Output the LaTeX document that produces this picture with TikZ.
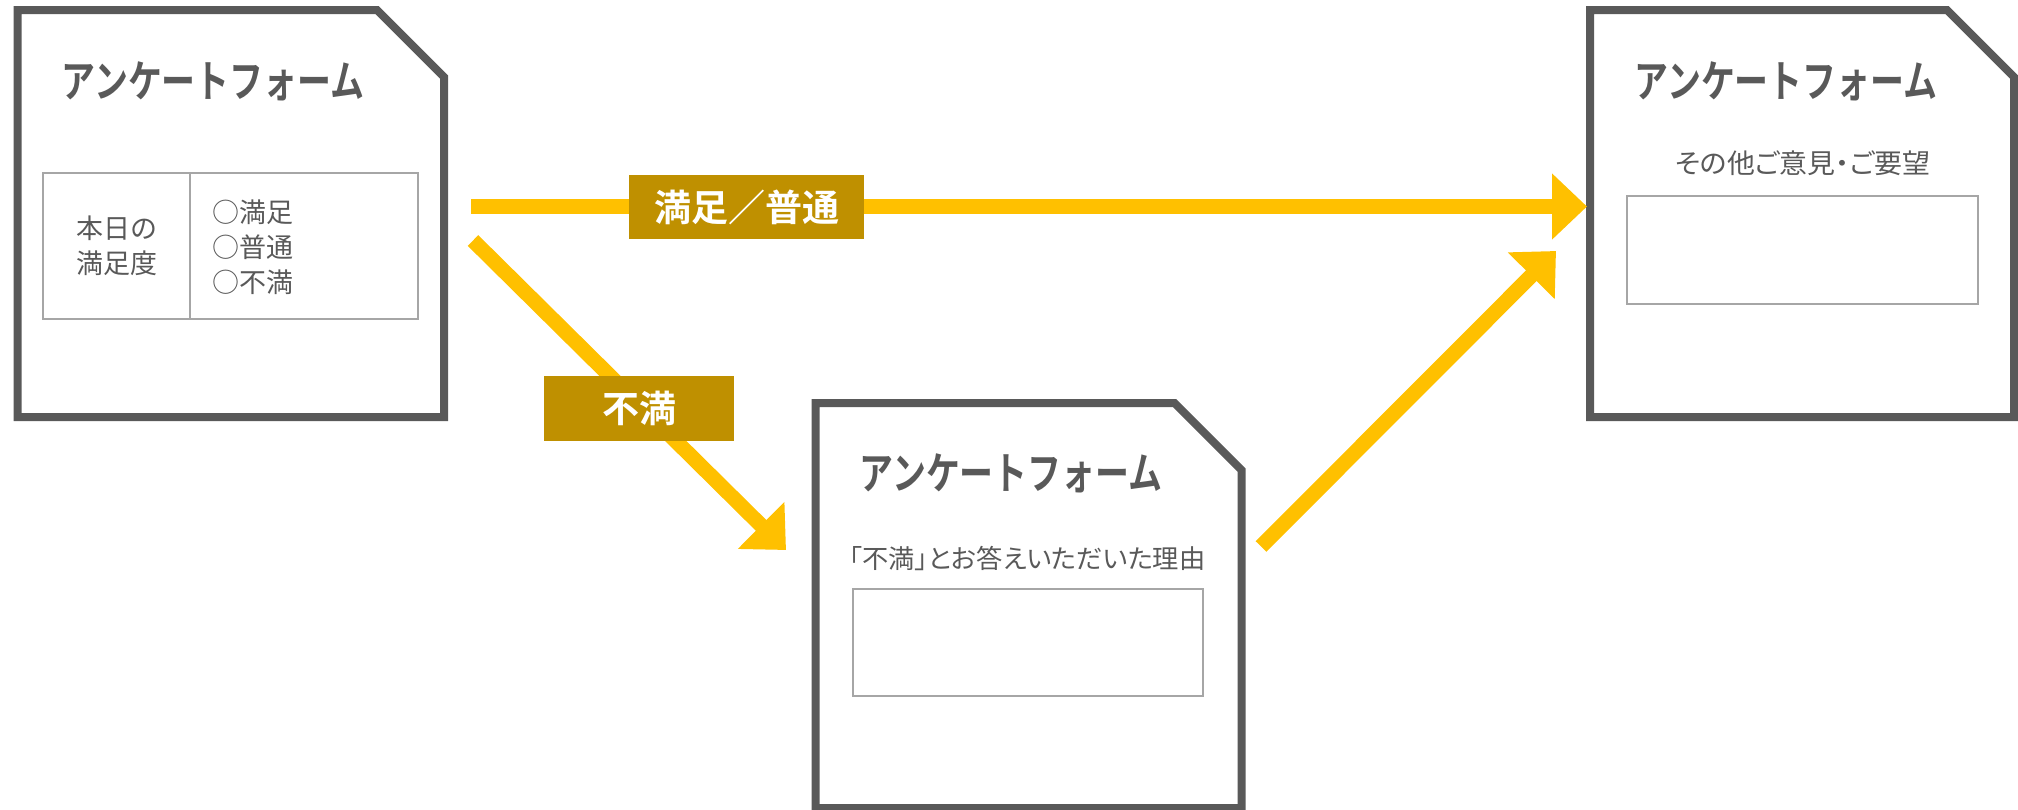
\documentclass[tikz,border=0pt]{standalone}
\usepackage{graphicx}
\usepackage{fontspec}
\setmainfont{Noto Sans CJK JP}[BoldFont={Noto Sans CJK JP Bold}]
\newfontfamily\proptext{Noto Sans CJK JP}[RawFeature=+palt]
\usetikzlibrary{arrows.meta}
\definecolor{dgray}{HTML}{595959}
\definecolor{lgray}{HTML}{A6A6A6}
\definecolor{amber}{HTML}{FFC000}
\definecolor{gold}{HTML}{BF9000}
\tikzset{
  formbox/.style={draw=none, inner sep=0pt, outer sep=0pt},
  formline/.style={draw=dgray, line width=8pt, line join=miter},
  formtitle/.style={font=\bfseries\fontsize{44}{50}\selectfont, text=dgray, inner sep=0pt},
  bodytext/.style={font=\fontsize{27}{35}\selectfont, text=dgray, inner sep=0pt},
  field/.style={draw=lgray, line width=2.5pt, inner sep=0pt},
  flow/.style={draw=amber, line width=15pt, -{Triangle[width=64pt,length=35pt]}},
  tag/.style={fill=gold, text=white, font=\bfseries\fontsize{37}{40}\selectfont, inner sep=0pt}
}
\begin{document}
\begin{tikzpicture}[x=1pt,y=-1pt]
\useasboundingbox (0,0) rectangle (2018,809);
% form boxes
\node[formbox, minimum width=426.5pt, minimum height=407pt] (f1) at (230.75,213.5) {};
\node[formbox, minimum width=426pt, minimum height=405pt] (f2) at (1028.5,605.5) {};
\node[formbox, minimum width=424pt, minimum height=407pt] (f3) at (1802,213.5) {};
\foreach \f in {f1,f2,f3}{
  \draw[formline] (\f.south west) -- (\f.north west) -- ([xshift=-67pt]\f.north east)
    -- ([yshift=-67pt]\f.north east) -- (\f.south east) -- cycle;
}
% titles
\node[formtitle] (t1) at (213,81) {\resizebox{303pt}{\height}{アンケートフォーム}};
\node[formtitle] (t2) at (1011,473.5) {\resizebox{303pt}{\height}{アンケートフォーム}};
\node[formtitle] (t3) at (1786,81) {\resizebox{303pt}{\height}{アンケートフォーム}};
% form 1 table
\node[field, minimum width=375pt, minimum height=146pt] (q) at (230.5,246) {};
\coordinate (qd) at (190,246);
\draw[draw=lgray, line width=2.5pt] (qd |- q.north) -- (qd |- q.south);
\node[bodytext, align=center] (q1t) at (116.5,246) {本日の\\満足度};
\node[bodytext, align=left, anchor=west] (q2t) at (212,247) {○満足\\○普通\\○不満};
% form 2
\node[bodytext, font=\proptext\fontsize{26}{30}\selectfont] (s2) at (1027.5,558) {\resizebox{356pt}{\height}{「不満」とお答えいただいた理由}};
\node[field, minimum width=350pt, minimum height=107pt] (r2) at (1028,642.5) {};
% form 3
\node[bodytext, font=\proptext\fontsize{27}{30}\selectfont] (s3) at (1802.5,163) {\resizebox{255pt}{\height}{その他ご意見・ご要望}};
\node[field, minimum width=351pt, minimum height=108pt] (r3) at (1802.5,250) {};
% arrows
\coordinate (a1s) at (471,206.5);
\coordinate (a1e) at (1587,206.5);
\coordinate (a2s) at (473,240.5);
\coordinate (a2e) at (786,550);
\coordinate (a3s) at (1261,546.5);
\coordinate (a3e) at (1556,251);
\draw[flow] (a1s) -- (a1e);
\draw[flow] (a2s) -- (a2e);
\draw[flow] (a3s) -- (a3e);
% labels
\node[tag, minimum width=235pt, minimum height=64pt] (l1) at (746.5,207) {満足／普通};
\node[tag, minimum width=190pt, minimum height=65pt] (l2) at (639,408.5) {不満};
\end{tikzpicture}
\end{document}
